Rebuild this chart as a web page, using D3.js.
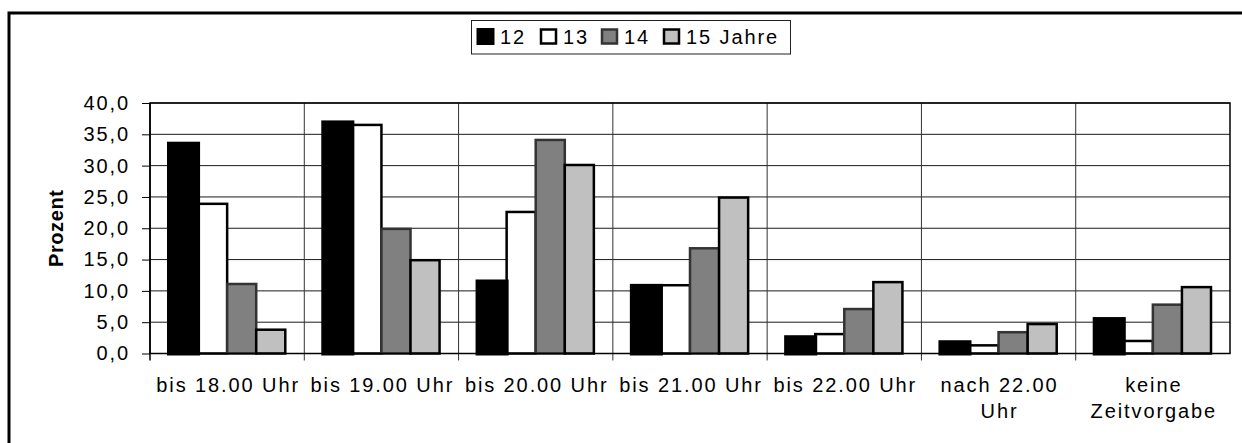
<!DOCTYPE html>
<html>
<head>
<meta charset="utf-8">
<script src="https://cdn.jsdelivr.net/npm/d3@7"></script>
<style>
  body { margin: 0; background: #fff; }
  svg text { font-family: Arial, "Liberation Sans", sans-serif; fill: #000; }
</style>
</head>
<body>
<div class="chart"></div>
<script>
// Data
var categories = ['bis 18.00 Uhr', 'bis 19.00 Uhr', 'bis 20.00 Uhr', 'bis 21.00 Uhr', 'bis 22.00 Uhr', 'nach 22.00 Uhr', 'keine Zeitvorgabe']
var series = ['12', '13', '14', '15 Jahre']
var v12 = [33.5, 36.9, 11.5, 10.8, 2.6, 1.8, 5.5]
var v13 = [23.9, 36.5, 22.6, 10.9, 3.1, 1.3, 2.0]
var v14 = [11.1, 19.9, 34.1, 16.8, 7.1, 3.4, 7.8]
var v15 = [3.8, 14.9, 30.1, 24.9, 11.4, 4.7, 10.6]
var yTicks = [0, 5, 10, 15, 20, 25, 30, 35, 40]

var values = [v12, v13, v14, v15]
var fills = ['#000000', '#ffffff', '#808080', '#c0c0c0']
var strokes = ['#000000', '#000000', '#333333', '#000000']

// SVG setup
var W = 1242, H = 443
var margin = {top: 103, left: 150},
    width = 1080,
    height = 250.5
var fontSize = '20px', spacing = '1.9px'

var svg = d3.select('.chart').append('svg')
    .attr('width', W)
    .attr('height', H)

// outer frame (runs off right/bottom like the source)
svg.append('rect')
  .attr('x', 9).attr('y', 13)
  .attr('width', 1300).attr('height', 600)
  .attr('fill', 'none')
  .attr('stroke', '#000')
  .attr('stroke-width', 3)

var g = svg.append('g')
  .attr('transform', 'translate(' + margin.left + ',' + margin.top + ')')

var x = d3.scaleBand()
  .domain(categories)
  .range([0, width])
  .padding(0)

var xSub = d3.scaleBand()
  .domain(series)
  .range([19, x.bandwidth() - 19])
  .padding(0)

var y = d3.scaleLinear()
  .domain([0, 40])
  .range([height, 0])

// horizontal gridlines
g.append('g').selectAll('line')
  .data(yTicks)
  .enter().append('line')
  .attr('x1', 0).attr('x2', width)
  .attr('y1', d => y(d)).attr('y2', d => y(d))
  .attr('stroke', '#1a1a1a')
  .attr('stroke-width', 1)

// vertical category separators (also serve as x ticks)
g.append('g').selectAll('line')
  .data(categories.slice(1))
  .enter().append('line')
  .attr('x1', d => x(d)).attr('x2', d => x(d))
  .attr('y1', 0).attr('y2', height + 7)
  .attr('stroke', '#333')
  .attr('stroke-width', 1)

// bars, black series drawn last so it sits on top like the source
var order = [1, 2, 3, 0]
order.forEach(function(si) {
  g.append('g').selectAll('rect')
    .data(values[si])
    .enter().append('rect')
    .attr('x', (d, i) => x(categories[i]) + xSub(series[si]))
    .attr('y', d => y(d))
    .attr('width', xSub.bandwidth())
    .attr('height', d => height - y(d))
    .attr('fill', fills[si])
    .attr('stroke', strokes[si])
    .attr('stroke-width', si === 0 ? 4 : 2.5)
})

// plot border
g.append('rect')
  .attr('x', 0).attr('y', 0)
  .attr('width', width).attr('height', height)
  .attr('fill', 'none')
  .attr('stroke', '#000')
  .attr('stroke-width', 1.5)

// y axis
var yAxis = d3.axisLeft(y)
  .tickValues(yTicks)
  .tickSize(8)
  .tickPadding(12)
  .tickFormat(d => d.toFixed(1).replace('.', ','))

var ya = g.append('g').call(yAxis)
ya.select('.domain').attr('stroke', '#000').attr('stroke-width', 1.5).attr('d', 'M0,0V' + (height + 7))
ya.selectAll('.tick line').attr('stroke', '#000')
ya.selectAll('.tick text')
  .style('font-size', fontSize)
  .style('letter-spacing', spacing)
  .attr('font-family', null)

// x labels, wrapped to band width
var xl = g.append('g').attr('transform', 'translate(0,' + (height + 38) + ')')
categories.forEach(function(c) {
  var t = xl.append('text')
    .attr('text-anchor', 'middle')
    .style('font-size', fontSize)
    .style('letter-spacing', spacing)
  var words = c.split(' ')
  var line = []
  var lines = []
  words.forEach(function(w) {
    t.text(line.concat(w).join(' '))
    if (t.node().getComputedTextLength() > x.bandwidth() - 4 && line.length) {
      lines.push(line.join(' '))
      line = [w]
    } else {
      line.push(w)
    }
  })
  lines.push(line.join(' '))
  t.text(null)
  lines.forEach(function(l, i) {
    t.append('tspan')
      .attr('x', x(c) + x.bandwidth() / 2 + 1)
      .attr('dy', i === 0 ? 0 : 26.7)
      .text(l)
  })
})

// y label
svg.append('text')
  .attr('transform', 'translate(63,' + (margin.top + height / 2) + ') rotate(-90)')
  .attr('text-anchor', 'middle')
  .style('font-size', fontSize)
  .style('font-weight', 'bold')
  .style('letter-spacing', '0.6px')
  .text('Prozent')

// legend
var legend = svg.append('g')
legend.append('rect')
  .attr('x', 471.5).attr('y', 20.5)
  .attr('width', 319).attr('height', 33.5)
  .attr('fill', '#fff')
  .attr('stroke', '#222')
  .attr('stroke-width', 1)

var legX = [478, 541, 602, 664]
series.forEach(function(s, i) {
  legend.append('rect')
    .attr('x', legX[i]).attr('y', 29.5)
    .attr('width', 15).attr('height', 14)
    .attr('fill', fills[i])
    .attr('stroke', strokes[i])
    .attr('stroke-width', i === 0 ? 3 : 2.5)
  legend.append('text')
    .attr('x', legX[i] + 22)
    .attr('y', 44)
    .style('font-size', fontSize)
    .style('letter-spacing', spacing)
    .text(s)
})
</script>
</body>
</html>
